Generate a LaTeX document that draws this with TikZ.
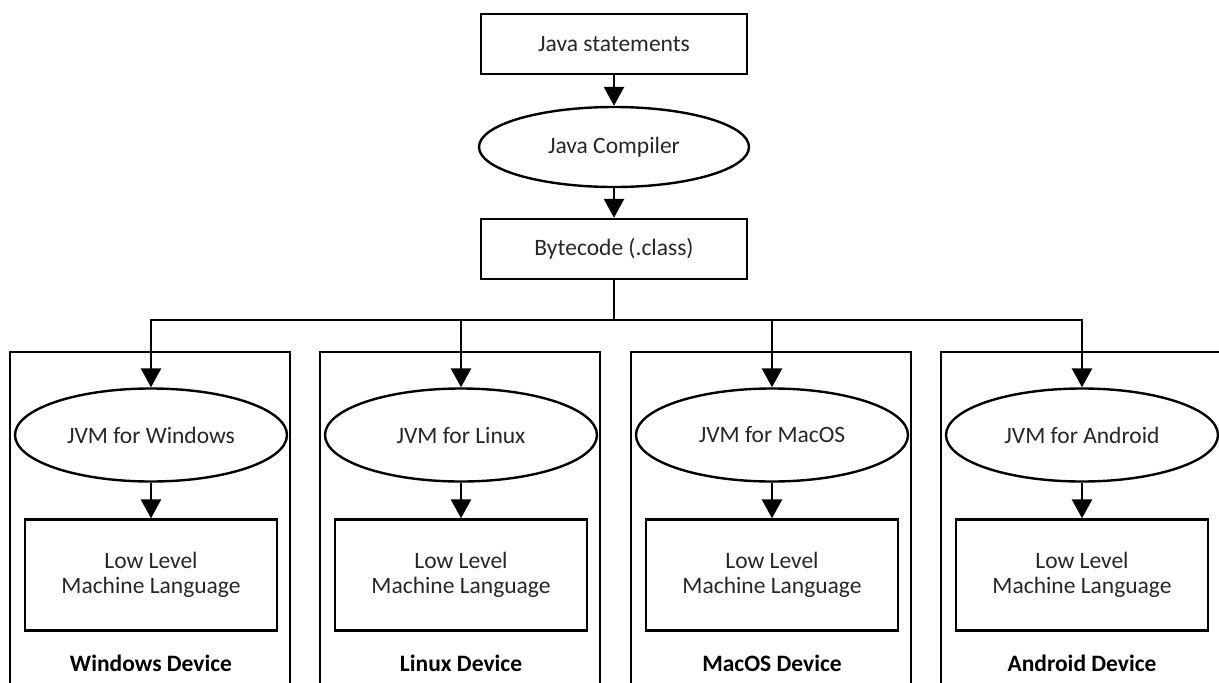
\documentclass[tikz,border=0pt]{standalone}
\usepackage{fontspec}
\setmainfont{Carlito}
\usetikzlibrary{arrows.meta,shapes.geometric}
\begin{document}
\begin{tikzpicture}[x=1pt,y=-1pt,
  txt/.style={font=\fontsize{23.5}{25.5}\selectfont, text=black!85},
  box/.style={txt,draw,line width=2.4pt,rectangle,inner sep=0pt,align=center},
  oval/.style={txt,draw,line width=2.4pt,ellipse,inner sep=0pt},
  devbox/.style={draw,line width=2.4pt,rectangle,inner sep=0pt,minimum width=280pt,minimum height=368pt},
  arr/.style={line width=2.8pt,-{Triangle[width=20pt,length=19pt]}},
  lbl/.style={font=\bfseries\fontsize{23.5}{25.5}\selectfont}]
\useasboundingbox (0,0) rectangle (1219,683);
\clip (0,0) rectangle (1219,683);

\node[box,minimum width=266pt,minimum height=60pt] (js) at (614,44) {Java statements};
\node[oval,minimum width=270pt,minimum height=80pt] (jc) at (614,147) {Java Compiler};
\node[box,minimum width=266pt,minimum height=60pt] (bc) at (614,249) {Bytecode (.class)};
\coordinate (hub) at (614,320);

\draw[arr] (js) -- (jc);
\draw[arr] (jc) -- (bc);
\draw[line width=2.8pt] (bc.south) -- (hub);

\foreach \c/\n/\os/\dev in {151/w/Windows/Windows Device,461/l/Linux/Linux Device,772/m/MacOS/MacOS Device,1082/a/Android/Android Device}{
  \node[devbox] (dev\n) at (\c-1,536) {};
  \node[oval,minimum width=272pt,minimum height=93pt] (jvm\n) at (\c,435) {JVM for \os};
  \node[box,minimum width=252pt,minimum height=111pt] (low\n) at (\c,575) {Low Level\\Machine Language};
  \node[lbl] (lbl\n) at (\c,663) {\dev};
  \draw[arr] (hub) -| (jvm\n.north);
  \draw[arr] (jvm\n) -- (low\n);
}
\end{tikzpicture}
\end{document}
